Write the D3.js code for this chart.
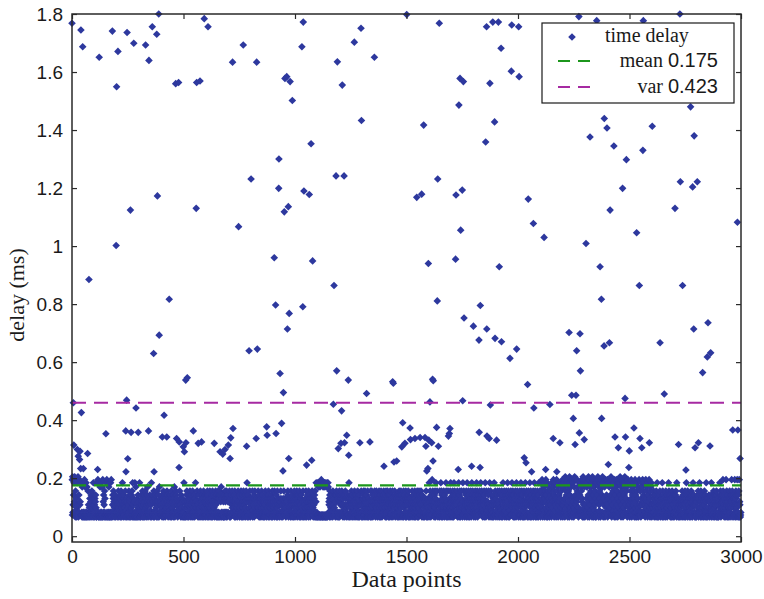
<!DOCTYPE html>
<html>
<head>
<meta charset="utf-8">
<script src="https://cdn.jsdelivr.net/npm/d3@7"></script>
<style>
  body { margin: 0; background: #fff; }
  svg { display: block; }
</style>
</head>
<body>
<div id="my_dataviz"></div>
<script>

// axis ticks
var xTicks = [0, 500, 1000, 1500, 2000, 2500, 3000];
var yTicks = [0, 0.2, 0.4, 0.6, 0.8, 1, 1.2, 1.4, 1.6, 1.8];
var yTickLabels = ["0", "0.2", "0.4", "0.6", "0.8", "1", "1.2", "1.4", "1.6", "1.8"];

// legend entries
var legendNames = ["time delay", "mean", "var"];
var legendValues = ["", "0.175", "0.423"];
// level where each dashed line sits in the picture
var lineLevels = [0.175, 0.46];

// dense band under 0.22 ms, 100 data points per string
// each letter stands for one delay level (ms) listed in bandValues
var bandLetters = "abcdefghijklmnop";
var bandValues = [0.066, 0.073, 0.082, 0.088, 0.093, 0.098, 0.108, 0.119,
                  0.130, 0.142, 0.156, 0.170, 0.184, 0.195, 0.205, 0.215];
var bandBlocks = [
  "anbocgpjambhoncakdnbiafmbgcokabjcnagbhmcabmbcalbmacbmacbnablabcmbaclabhbkagcjbfaicgbhajdbkafcibgmajc",
  "bgaichjbfaabmbcanbamcabmbalbacbmacblabnahcjbgakcibabcmabncbambacblabmacbamcbnabcabgjcikbhafcbjgaicmb",
  "bhcaigjbkfacbhdgiabjkcafbhmcgbaijcbgfhakcbjdagibhclafbgkcajbhigacbfjbkacmbgaidchabmcbalbcacbgiafjbhc",
  "abcmbafcabjgbhcakibfacgbjhadkcbifagcjbhlcabkgfbicjhadbgcmaibfjcbhagkbcaidcbjgfhabkcigabhjcaflcgbidhb",
  "cgbjahfcibkagcbhdjabicgfbakhcjbagicfmbdhacjbgkaicbfhbcajgiblcagbhfkcjaibdgachbjfacbkhgicabjfcbaihbca",
  "abmcbafbhaicgjbkacfhbgaicjdbhkacfbgijcahbkcagfhbjcaigbmchafbjkcbgaihcbafjcgbkhaicbhgajfbickabgchjfab",
  "icbhgjakcfbagjchibkafcbihagjcbkahcbjgfibachbkgjcaibcaibkhacjibakcjbhalcbaijbkcahabjcaibkhciabkcajbih",
  "cabjhbkaicbahcijgbkfacbgihfcjakbhgacidbjfagcbkhicbjadfhbgckaibcgajhfbkcagibdhjcafkbgcmhaibjcbagfhkci",
  "abgjchifbkacdhgbiajckfbhcgaijbcahbgkfciajbcgahidbfkcabjghciafbhcaigkbjcdaghbficbakjbhcgaifbcihgajbkc",
  "aigbhcfjkacbgihdjabcfkahgbicjbacgfhbkiacjbdgcahibfkcabgjhicafbighcajkbcahgbifdjcabkhcgiafbjcbhagikcf",
  "abhcgijfkbacbighjcfakbhcgaijbdfcabhgkicajbhcgafibkcagibhjfcbakhcgbjiafcbdhgaikbjcfabhgicjakbcahmbacb",
  "abmablbambablbamabnbambabalbmabamblabambablambabmlcbhgiajkcbfahcgbijcakbhcgaifbjcahbgjkicafbicgahjbk",
  "acbhgifjcakbhcgaijbfcahgbjkicbafhcgbijakbcmgaihfbjcahkbgicjafbhcgaikbjchbagjicfabkhcgaijbcafhgcbikja",
  "cbhgaifjkbacbgkhicafjbcgahkbfcaigbhcjfakbcagkhbjcafibhcgakjbcagbhkficbajhcgbikafbcjgahkbicafhbgcjika",
  "cbhgfaijkcabhcgkifjacbghaijkbcfahbgickjabchgaifkbjacbhgikcjafbhcgajkibcahgbkifjcabhcgiakbfjcbhgaikcb",
  "afhcgbijkacbhgaikfjbacgbhkicfajbhcgaikbcfahgbcijkabchgaikfjbcahbgkicfajbhcgaikbcafhgbcijkabchgafkijb",
  "camhbgkdiafjbcgnhakibcdgahjfkbaimcbhgkfcjabdhcgiakbfchmgakjbicahbgdkfcajbhcgimkafbchgakdjbcahigbkfma",
  "bdhcgaikjfcabmhgkicbajfhcgbdkaicbhmgafjkbcahgdikfbjacmhgbkicfadbhcgjkaibmchgafkbjcadhgbikfacbmhgjkic",
  "bfahdcgikjacbhmgfkiacjbdhgaikfbacmhgjkcifbadhcgikajcbmhgafkbiacdhgbjkfabcmhgikjafcbdhagkicjabmhcgfkb",
  "iacdhgbjfkabmchgikajfcbdhagkibjacmhgbfkicabdhgjkafibcmhgakjbfcadhgbikjabcmhgfkiajcbdhagikfbacmhgjkcb",
  "fiadhcgbkjacbmhgikfajcbdhagkibfacmhgbjkicbadhgfkjaibcmhgakfbjcadhgbikfabcmhgjkiafcbdhagkicjabmhcgfkb",
  "bagmckhinbcafjbldghmaickbnfhjambcagkdilbfacnhbgjkcambicfhlgnbcajkmdhibgacnbfiklhabmcjgdhnbicafklbgmc",
  "nabgclmhibacondkbjfmcbnaigklhcaombjdfclnbcangimhkbaclfonbjdgmcbahnkilcbafomgcjndacbmklnhiacbongafjlm",
  "abncgkmidlcbmafjonhbancbglkdimbcamonjhfalcbndgkaimabcfmnhjocbnalgdkicmacbnmfhjlocbamgidklnabcnmhfjgb",
  "cnabgkmidlbcmafjnohbacnbglkdimcbamnojhfalbcndgkaimacbfmnhjocbnalgdkicmcabnmfhjlobcamgidklnacbnmhfjgb",
  "bagmckhinbacfjbldghmbiakcnfhjamcbagkdilbafcnhbgjkcbamicfhlgncbajkmdhibagcnbfiklhbamcjgdhnbciafklbgmc",
  "abhgcifjkbcagibhjdfakbhcmaijbfcahgbjkicbafhcgbimakbcjgaihfbdcahkbgicjafbhcgmikbjchbagjicfabkhcgaijbc",
  "acbigfhjkbcamgbhidfakbhcgajibcfahcbgkijajbchgaifbkcagbimhjfcakhcgbjiafcbdhgaikbjcfabhmgicjkbcahgiabc",
  "ahbcgijfkbacbimhjcfakbhcgaijbdfcabhgkicajbhcmafibkcagibhjfcbakhcgbjmafcbdhgaikbjcfabhgicjakbcahgiabc",
  "abhcgmjfkbacbighjcfnkbhcgaijbdfcanhgkicajbhcgafibkcagibhjfnbakhcgbjiafcbnhgaikbjcfanhgicjakbnahgoabc"
];

// points above the band, [data point, delay ms]
var outliers = [
  [0,1.768],[40,1.745],[48,1.687],[76,1.768],[122,1.651],[181,1.741],[200,1.549],[206,1.671],
  [247,1.736],[277,1.699],[330,1.693],[345,1.640],[360,1.756],[380,1.730],[389,1.800],[383,1.173],
  [465,1.560],[478,1.564],[559,1.564],[574,1.569],[593,1.784],[610,1.756],[720,1.634],[768,1.693],
  [803,1.231],[828,1.634],[1037,1.772],[1031,1.687],[955,1.578],[963,1.584],[978,1.567],[988,1.502],
  [1072,1.353],[928,1.300],[927,1.199],[1040,1.190],[1064,1.178],[1296,1.751],[1266,1.703],[1190,1.635],
  [1356,1.651],[1212,1.555],[1298,1.433],[1184,1.242],[1220,1.242],[1501,1.798],[1647,1.768],[1577,1.417],
  [1640,1.231],[1546,1.168],[1568,1.179],[1722,1.176],[1750,1.193],[1740,1.578],[1755,1.567],[1735,1.486],
  [1855,1.359],[1895,1.428],[1859,1.756],[1887,1.772],[1912,1.772],[1924,1.682],[1972,1.762],[2003,1.756],
  [1874,1.561],[1970,1.603],[2005,1.584],[2273,1.791],[2353,1.777],[2726,1.800],[2562,1.777],[2774,1.480],
  [2387,1.440],[2046,1.162],[2069,1.078],[2117,1.030],[2305,1.009],[2413,1.124],[2469,1.199],[2532,1.046],
  [2704,1.130],[2728,1.222],[2783,1.204],[2804,1.222],[2984,1.082],[198,1.002],[262,1.124],[557,1.130],
  [747,1.067],[952,1.118],[970,1.136],[1743,1.055],
  [2323,1.376],[2399,1.407],[2430,1.345],[2486,1.298],[2602,1.413],[2560,1.330],[2790,1.380],
  [76,0.885],[436,0.817],[391,0.693],[366,0.630],[517,0.546],[907,0.960],[1079,0.949],[1175,0.864],
  [913,0.797],[974,0.768],[1035,0.791],[966,0.714],[794,0.639],[831,0.645],[933,0.561],[1187,0.570],
  [1239,0.538],[1438,0.532],[1598,0.940],[1720,0.955],[1638,0.811],[1916,0.929],[1831,0.795],[1758,0.752],
  [1800,0.724],[1860,0.714],[1825,0.676],[1897,0.682],[1926,0.670],[1994,0.645],[1964,0.613],[2368,0.929],
  [2374,0.817],[2544,0.864],[2738,0.864],[2229,0.702],[2278,0.698],[2263,0.639],[2280,0.570],[2386,0.656],
  [2410,0.667],[2637,0.667],[2788,0.714],[2852,0.736],[2849,0.618],[2864,0.632],[2828,0.564],[1617,0.541],
  [510,0.538],[1620,0.536],[1441,0.527],[2043,0.523],
  [6,0.460],[42,0.426],[245,0.469],[287,0.442],[413,0.417],[152,0.353],[241,0.363],[265,0.358],
  [297,0.358],[343,0.363],[405,0.342],[425,0.342],[8,0.314],[24,0.299],[36,0.293],[28,0.276],
  [70,0.285],[34,0.264],[39,0.233],[51,0.233],[115,0.230],[250,0.267],[242,0.222],[368,0.222],
  [469,0.337],[481,0.325],[499,0.308],[504,0.291],[511,0.322],[544,0.363],[566,0.320],[581,0.325],
  [638,0.320],[664,0.291],[676,0.283],[686,0.299],[701,0.314],[709,0.268],[722,0.371],[712,0.339],
  [783,0.310],[826,0.337],[480,0.237],[948,0.495],[1321,0.492],[1172,0.455],[1209,0.432],[1605,0.463],
  [1752,0.467],[1876,0.452],[873,0.377],[875,0.348],[915,0.354],[940,0.389],[972,0.268],[946,0.225],
  [1052,0.245],[1075,0.262],[1194,0.302],[1206,0.320],[1222,0.322],[1232,0.348],[1241,0.279],[1291,0.322],
  [1336,0.325],[1399,0.241],[1444,0.256],[1456,0.259],[1483,0.391],[1516,0.373],[1479,0.308],[1493,0.320],
  [1518,0.333],[1538,0.337],[1561,0.340],[1583,0.340],[1600,0.331],[1613,0.322],[1587,0.310],[1635,0.375],
  [1643,0.310],[1695,0.371],[1692,0.354],[1688,0.345],[1619,0.259],[1591,0.225],[1596,0.233],[1732,0.230],
  [1792,0.241],[1830,0.237],[1826,0.358],[1861,0.345],[1871,0.337],[1904,0.331],[2071,0.442],[2143,0.454],
  [2241,0.486],[2260,0.486],[2248,0.406],[2275,0.356],[2297,0.333],[2256,0.316],[2158,0.337],[2188,0.322],
  [2375,0.406],[2480,0.475],[2656,0.490],[2435,0.342],[2482,0.342],[2450,0.305],[2499,0.294],[2520,0.373],
  [2547,0.337],[2555,0.305],[2589,0.322],[2720,0.316],[2794,0.305],[2809,0.322],[2861,0.311],[2963,0.366],
  [2986,0.366],[2996,0.268],[2028,0.270],[2036,0.253],[2061,0.222],[2124,0.230],[2174,0.222],[2405,0.247],
  [2497,0.237],[2753,0.228]
];

// build the delay for each data point
var delays = [];
bandBlocks.forEach(function(s, b) {
    for (var j = 0; j < s.length && j < 100; j++) {
        delays[b * 100 + j] = bandValues[bandLetters.indexOf(s[j])];
    }
});
outliers.forEach(function(d) { delays[d[0]] = d[1]; });
var data = [];
delays.forEach(function(v, i) { data.push({ i: i, v: v }); });

var width = 764, height = 599;
var plot = { left: 72, right: 741, top: 14, bottom: 542 };

var svg = d3.select("#my_dataviz")
  .append("svg")
    .attr("width", width)
    .attr("height", height);

var x = d3.scaleLinear().domain([0, 3000]).range([plot.left, plot.right]);
var y = d3.scaleLinear().domain([-0.02, 1.8]).range([plot.bottom, plot.top]);

var sansFont = "'Liberation Sans', Arial, sans-serif";
var serifFont = "'Liberation Serif', 'Times New Roman', serif";
var markerColor = "#2d389e";
var lineColors = ["#1c961c", "#a62aa2"];

// diamond marker
var r = 3.8;
var diamond = "M0," + (-r) + "L" + r + ",0L0," + r + "L" + (-r) + ",0Z";

// Add the points
svg.append("g")
  .selectAll("path")
  .data(data)
  .enter()
  .append("path")
    .attr("d", diamond)
    .attr("fill", markerColor)
    .attr("transform", function(d) { return "translate(" + x(d.i) + "," + y(d.v) + ")"; });

// dashed mean / var lines
svg.append("g")
  .selectAll("line")
  .data(lineLevels)
  .enter()
  .append("line")
    .attr("x1", x(0))
    .attr("x2", x(3000))
    .attr("y1", function(d) { return y(d); })
    .attr("y2", function(d) { return y(d); })
    .attr("stroke", function(d, i) { return lineColors[i]; })
    .attr("stroke-width", 2.2)
    .attr("stroke-dasharray", "14,8");

// axes with inward ticks
var axisColor = "#2a2a2a";
var xAxis = svg.append("g")
  .attr("transform", "translate(0," + plot.bottom + ")")
  .call(d3.axisBottom(x).tickValues(xTicks).tickSizeInner(-5).tickSizeOuter(0).tickPadding(8)
        .tickFormat(d3.format("d")));
var xTop = svg.append("g")
  .attr("transform", "translate(0," + plot.top + ")")
  .call(d3.axisTop(x).tickValues(xTicks).tickSizeInner(-5).tickSizeOuter(0).tickFormat(""));
var yAxis = svg.append("g")
  .attr("transform", "translate(" + plot.left + ",0)")
  .call(d3.axisLeft(y).tickValues(yTicks).tickSizeInner(-5).tickSizeOuter(0).tickPadding(9)
        .tickFormat(function(d, i) { return yTickLabels[i]; }));
var yRight = svg.append("g")
  .attr("transform", "translate(" + plot.right + ",0)")
  .call(d3.axisRight(y).tickValues(yTicks).tickSizeInner(-5).tickSizeOuter(0).tickFormat(""));

[xAxis, xTop, yAxis, yRight].forEach(function(a) {
    a.select(".domain").remove();
    a.selectAll("line").attr("stroke", axisColor).attr("stroke-width", 1.2);
    a.selectAll("text")
      .attr("fill", "#1a1a1a")
      .style("font-family", sansFont)
      .style("font-size", "19px");
});

// box
svg.append("rect")
  .attr("x", plot.left)
  .attr("y", plot.top)
  .attr("width", plot.right - plot.left)
  .attr("height", plot.bottom - plot.top)
  .attr("fill", "none")
  .attr("stroke", axisColor)
  .attr("stroke-width", 1.5);

// axis labels
svg.append("text")
  .attr("x", (plot.left + plot.right) / 2)
  .attr("y", 587)
  .attr("text-anchor", "middle")
  .style("font-family", serifFont)
  .style("font-size", "24px")
  .attr("fill", "#1a1a1a")
  .text("Data points");

svg.append("text")
  .attr("transform", "translate(24,295) rotate(-90)")
  .attr("text-anchor", "middle")
  .style("font-family", serifFont)
  .style("font-size", "22px")
  .attr("fill", "#1a1a1a")
  .text("delay (ms)");

// legend
var legend = svg.append("g");
legend.append("rect")
  .attr("x", 542)
  .attr("y", 23)
  .attr("width", 192)
  .attr("height", 80)
  .attr("fill", "#fff")
  .attr("stroke", "#1a1a1a")
  .attr("stroke-width", 1.2);

legend.append("path")
  .attr("d", diamond)
  .attr("fill", markerColor)
  .attr("transform", "translate(572,37)");

legend.append("text")
  .attr("x", 605)
  .attr("y", 42)
  .style("font-family", serifFont)
  .style("font-size", "20px")
  .attr("fill", "#1a1a1a")
  .text(legendNames[0]);

[1, 2].forEach(function(k) {
    var ly = k == 1 ? 61 : 87;
    legend.append("line")
      .attr("x1", 558).attr("x2", 590)
      .attr("y1", ly).attr("y2", ly)
      .attr("stroke", lineColors[k - 1])
      .attr("stroke-width", 2.2)
      .attr("stroke-dasharray", "12,8");
    var t = legend.append("text")
      .attr("x", 718)
      .attr("y", ly + 6)
      .attr("text-anchor", "end")
      .attr("fill", "#1a1a1a")
      .style("font-size", "20px");
    t.append("tspan").style("font-family", serifFont).text(legendNames[k] + " ");
    t.append("tspan").style("font-family", sansFont).text(legendValues[k]);
});

</script>
</body>
</html>
